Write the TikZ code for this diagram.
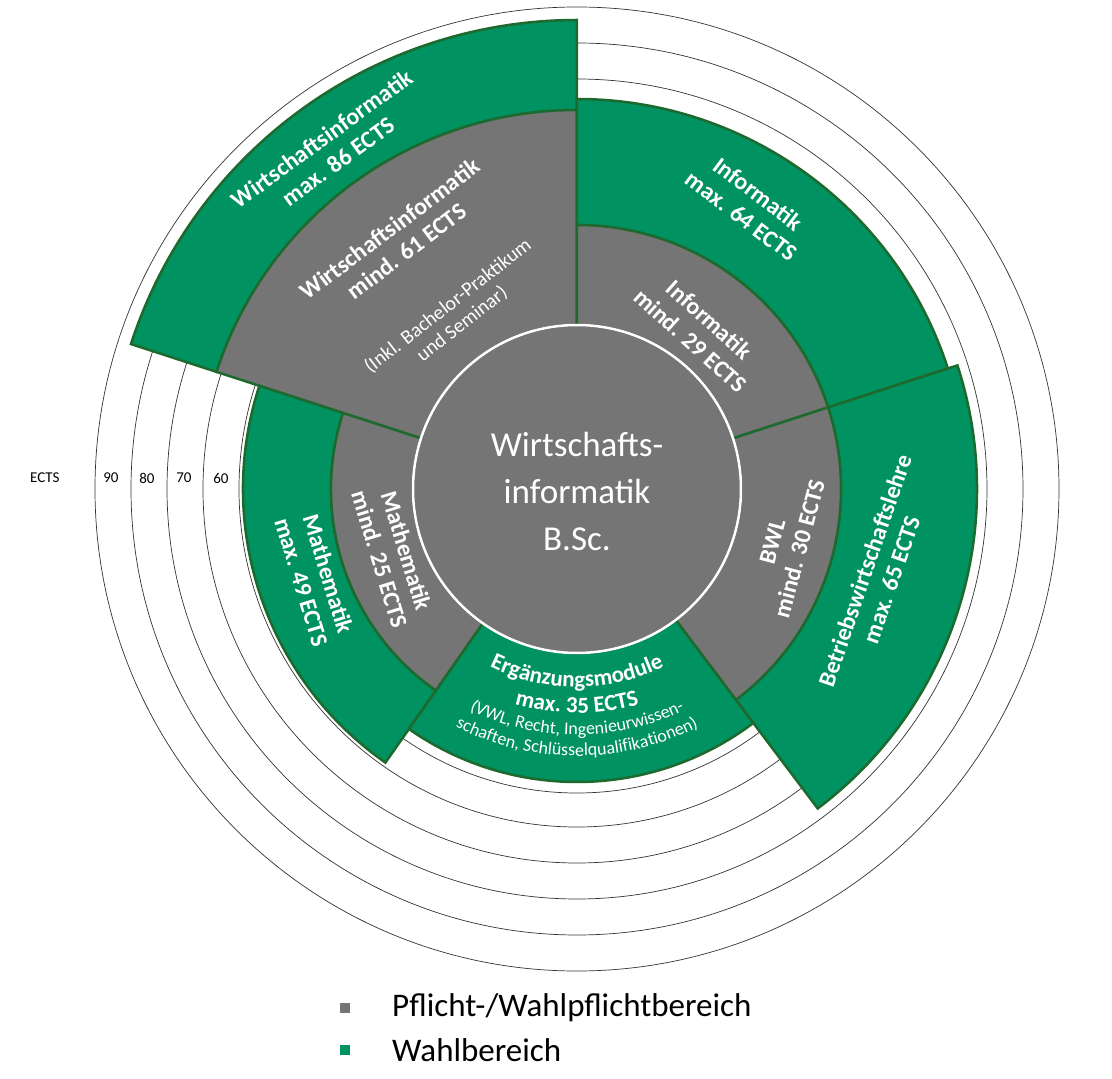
\documentclass[tikz,border=0pt]{standalone}
\usepackage{fontspec}
\setmainfont{Carlito}
\usetikzlibrary{decorations.text}
\definecolor{wgreen}{RGB}{0,146,96}
\definecolor{wgray}{RGB}{117,117,117}
\definecolor{wline}{RGB}{30,105,45}
\newcommand\wsector[5]{\path[#1] (#2:#4pt) arc[start angle=#2,end angle=#3,radius=#4pt] -- (#3:#5pt) arc[start angle=#3,end angle=#2,radius=#5pt] -- cycle;}
\tikzset{
  gsec/.style={fill=wgreen,draw=wline,line width=2.5pt,line join=miter},
  ysec/.style={fill=wgray,draw=wline,line width=2.5pt,line join=miter},
  ring/.style={draw=black!80,line width=0.7pt},
  lbl/.style={text=white,font=\bfseries\fontsize{24}{28}\selectfont,align=center,inner sep=0pt},
  sub/.style={text=white,font=\fontsize{20}{23}\selectfont,align=center,inner sep=0pt},
  scl/.style={font=\fontsize{15}{17}\selectfont,inner sep=0pt}
}
\begin{document}
\begin{tikzpicture}[x=1pt,y=1pt]
\useasboundingbox (-577,-590) rectangle (535,489);
\fill[white] (-577,-590) rectangle (535,489);
% rings
\foreach \r in {482,446,410,374,338,304} \draw[ring] (0,0) circle[radius=\r pt];
% sectors
\wsector{gsec}{90}{162}{379}{469}
\wsector{ysec}{90}{162}{164}{379}
\wsector{gsec}{18}{90}{264}{390}
\wsector{ysec}{18}{90}{164}{264}
\wsector{gsec}{-53}{18}{264}{400}
\wsector{ysec}{-53}{18}{164}{264}
\wsector{gsec}{162}{235}{246}{334}
\wsector{ysec}{162}{235}{164}{246}
\wsector{gsec}{-125}{-53}{164}{293}
% centre
\node[circle,minimum size=328pt,fill=wgray,draw=white,line width=2.5pt,inner sep=0pt] (c) at (0,0) {};
\node[text=white,font=\fontsize{35}{47}\selectfont,align=center] (ct) at (0,-2) {Wirtschafts-\\informatik\\B.Sc.};
% labels
\node[lbl,rotate=36] (wig) at (-247,339) {Wirtschaftsinformatik\\max. 86 ECTS};
\node[lbl,rotate=37] (wiy) at (-179,249) {Wirtschaftsinformatik\\mind. 61 ECTS};
\node[sub,rotate=38] (wis) at (-122,174) {(Inkl. Bachelor-Praktikum\\und Seminar)};
\node[lbl,rotate=-37] (ing) at (173,284) {Informatik\\max. 64 ECTS};
\node[lbl,rotate=-42] (iny) at (123,159) {Informatik\\mind. 29 ECTS};
\node[lbl,rotate=75] (bwy) at (209,-56) {BWL\\mind. 30 ECTS};
\node[lbl,rotate=71] (bwg) at (301,-86) {Betriebswirtschaftslehre\\max. 65 ECTS};
\node[lbl,rotate=-73] (mag) at (-262,-89) {Mathematik\\max. 49 ECTS};
\node[lbl,rotate=-73] (may) at (-184,-66) {Mathematik\\mind. 25 ECTS};
% Ergaenzung curved
\path[decorate,decoration={text along path,text align=center,text color=white,
  text={|\bfseries\fontsize{23}{27}\selectfont|Ergänzungsmodule}}]
  (-125:198pt) arc[start angle=-125,end angle=-55,radius=198pt];
\path[decorate,decoration={text along path,text align=center,text color=white,
  text={|\bfseries\fontsize{23}{27}\selectfont|max. 35 ECTS}}]
  (-125:224pt) arc[start angle=-125,end angle=-55,radius=224pt];
\path[decorate,decoration={text along path,text align=center,text color=white,
  text={|\fontsize{18}{21}\selectfont|(VWL, Recht, Ingenieurwissen-}}]
  (-125:246pt) arc[start angle=-125,end angle=-55,radius=246pt];
\path[decorate,decoration={text along path,text align=center,text color=white,
  text={|\fontsize{18}{21}\selectfont|schaften, Schlüsselqualifikationen)}}]
  (-125:267pt) arc[start angle=-125,end angle=-55,radius=267pt];
% scale
\node[scl,anchor=west] (e) at (-547,11) {ECTS};
\node[scl] (s90) at (-466,11) {90};
\node[scl] (s80) at (-430,11) {80};
\node[scl] (s70) at (-393,11) {70};
\node[scl] (s60) at (-356,11) {60};
% legend
\fill[wgray] (-237,-524) rectangle (-227,-514);
\fill[wgreen] (-237,-566) rectangle (-227,-556);
\node[anchor=west,font=\fontsize{33}{37}\selectfont,inner sep=0pt] (l1) at (-185,-519) {Pflicht-/Wahlpflichtbereich};
\node[anchor=west,font=\fontsize{33}{37}\selectfont,inner sep=0pt] (l2) at (-185,-561) {Wahlbereich};
\end{tikzpicture}
\end{document}
